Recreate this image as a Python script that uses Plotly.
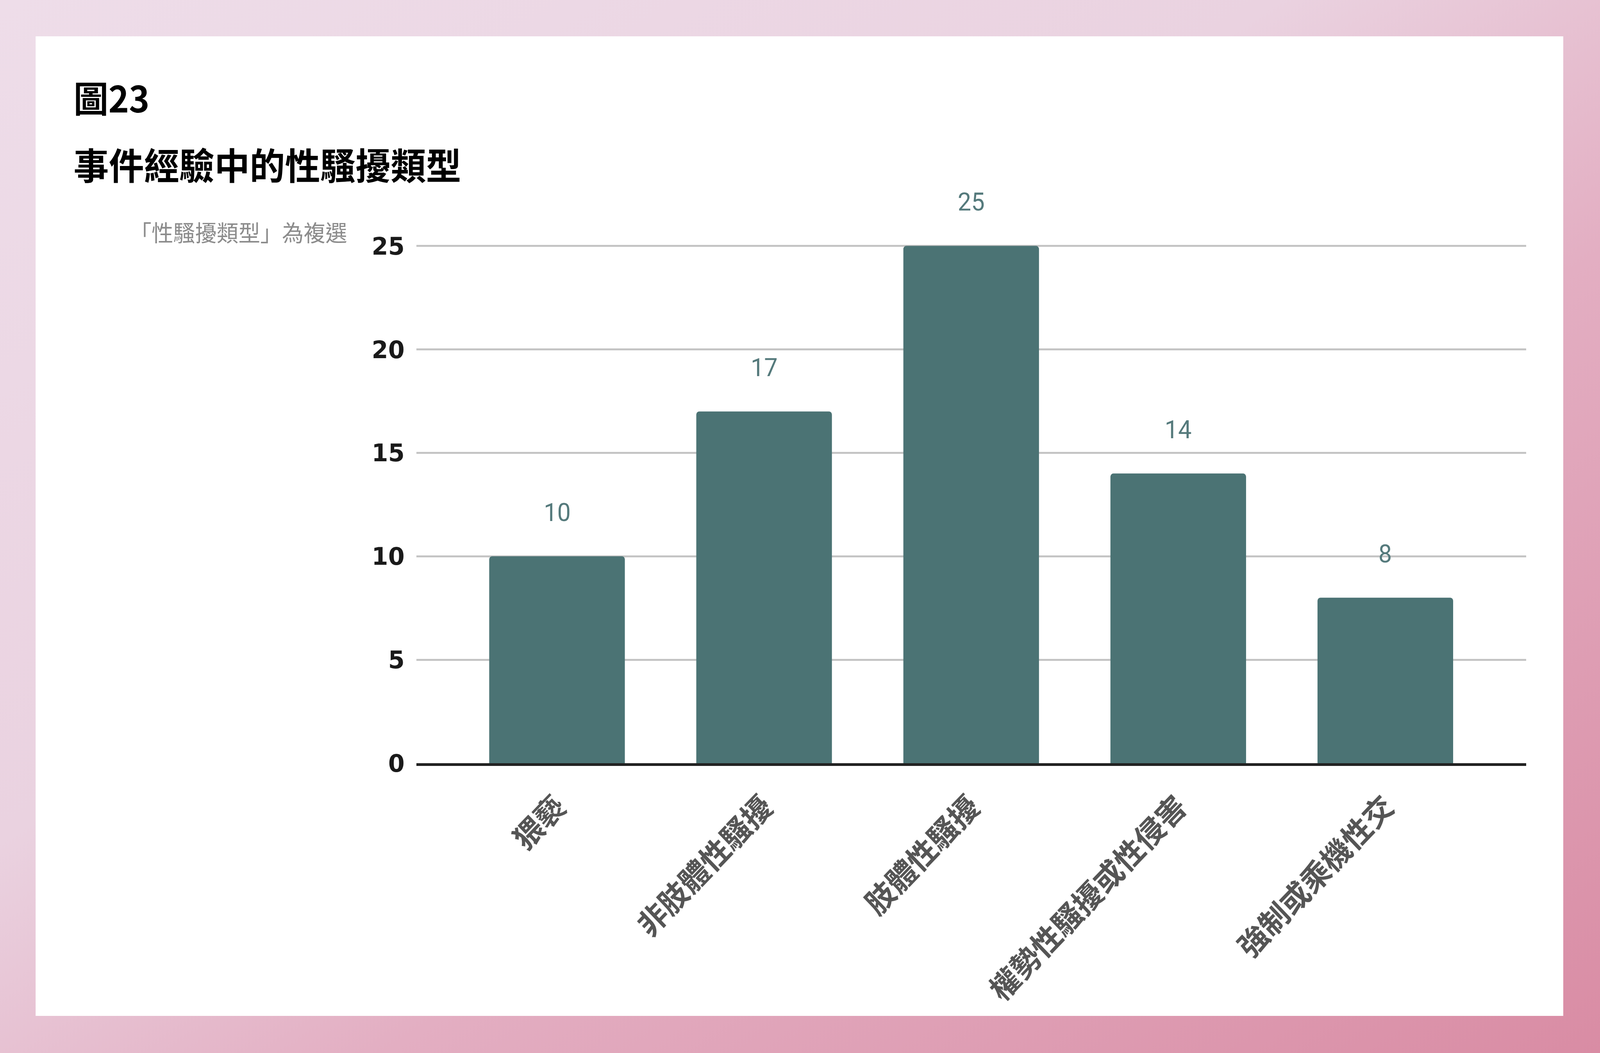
import plotly.graph_objects as go

# 性騷擾類型 (複選) 次數
categories = ["猥褻", "非肢體性騷擾", "肢體性騷擾", "權勢性騷擾或性侵害", "強制或乘機性交"]
counts = [10, 17, 25, 14, 8]
y_ticks = [0, 5, 10, 15, 20, 25]

fig_w, fig_h = 4267, 2696
L, R, T, B = 1110, 4070, 628, 1954
W, H = R - L, B - T


def px(x):
    return (x - L) / W


def py(y):
    return (B - y) / H


bg_svg = (
    "data:image/svg+xml;utf8,"
    "<svg xmlns='http://www.w3.org/2000/svg' width='100' height='100' preserveAspectRatio='none'>"
    "<defs><linearGradient id='g' x1='0' y1='0' x2='1' y2='1'>"
    "<stop offset='0' stop-color='%23eedde9'/>"
    "<stop offset='0.4' stop-color='%23ead2e0'/>"
    "<stop offset='0.62' stop-color='%23e3aec2'/>"
    "<stop offset='1' stop-color='%23d98ca4'/>"
    "</linearGradient></defs>"
    "<rect width='100' height='100' fill='url(%23g)'/></svg>"
)

fig = go.Figure()
fig.add_trace(go.Bar(
    x=categories,
    y=counts,
    marker=dict(color="#4b7374", line=dict(width=0)),
    hoverinfo="skip",
))

for c, v in zip(categories, counts):
    fig.add_annotation(
        x=c, y=v, text=str(v), showarrow=False,
        yanchor="middle", yshift=112,
        font=dict(family="Roboto", size=64, color="#557a7c"),
    )

fig.add_annotation(
    xref="paper", yref="paper", x=px(194), y=py(248), text="<b>圖23</b>",
    showarrow=False, xanchor="left", yanchor="middle",
    font=dict(family="Noto Sans CJK TC", size=93, color="#000000"),
)
fig.add_annotation(
    xref="paper", yref="paper", x=px(194), y=py(419), text="<b>事件經驗中的性騷擾類型</b>",
    showarrow=False, xanchor="left", yanchor="middle",
    font=dict(family="Noto Sans CJK TC", size=94, color="#000000"),
)
fig.add_annotation(
    xref="paper", yref="paper", x=px(928), y=py(593), text="「性騷擾類型」為複選",
    showarrow=False, xanchor="right", yanchor="middle",
    font=dict(family="Noto Sans CJK TC", size=58, color="#8c8c8c"),
)

fig.add_layout_image(
    source=bg_svg, xref="paper", yref="paper",
    x=px(0), y=py(0), sizex=fig_w / W, sizey=fig_h / H,
    xanchor="left", yanchor="top", sizing="stretch", layer="below",
)
fig.add_shape(
    type="rect", xref="paper", yref="paper",
    x0=px(95), x1=px(4169), y0=py(2601), y1=py(93),
    fillcolor="#ffffff", line=dict(width=0), layer="below",
)

fig.update_layout(
    width=fig_w, height=fig_h,
    margin=dict(l=L, r=fig_w - R, t=T, b=fig_h - B, autoexpand=False),
    paper_bgcolor="rgba(0,0,0,0)",
    plot_bgcolor="rgba(0,0,0,0)",
    bargap=0.345,
    barcornerradius=8,
    showlegend=False,
)
fig.update_xaxes(
    range=[-0.68, 4.68],
    tickangle=-45,
    tickfont=dict(family="Noto Sans CJK TC", size=78, color="#555555", weight="bold"),
    ticklabelstandoff=28,
    showline=True, linecolor="#222222", linewidth=7,
    showgrid=False, ticks="",
)
fig.update_yaxes(
    range=[0, 25.03],
    tickvals=y_ticks,
    tickfont=dict(family="DejaVu Sans", size=63, color="#1a1a1a", weight="bold"),
    ticklabelstandoff=30,
    showgrid=True, gridcolor="#c4c4c4", gridwidth=5,
    zeroline=False, ticks="",
)

# fit the fixed-size figure to the viewport width (zoom), then stretch to its height
fit_js = (
    "var z=window.innerWidth/4267, k=window.innerHeight/(2696*z);"
    "document.documentElement.style.overflow='hidden';"
    "var s=document.body.style;s.margin='0';s.zoom=z;"
    "s.transformOrigin='0 0';s.transform='scaleY('+k+')';"
)
fig.write_html("out.html", config={"displayModeBar": False}, post_script=fit_js)
